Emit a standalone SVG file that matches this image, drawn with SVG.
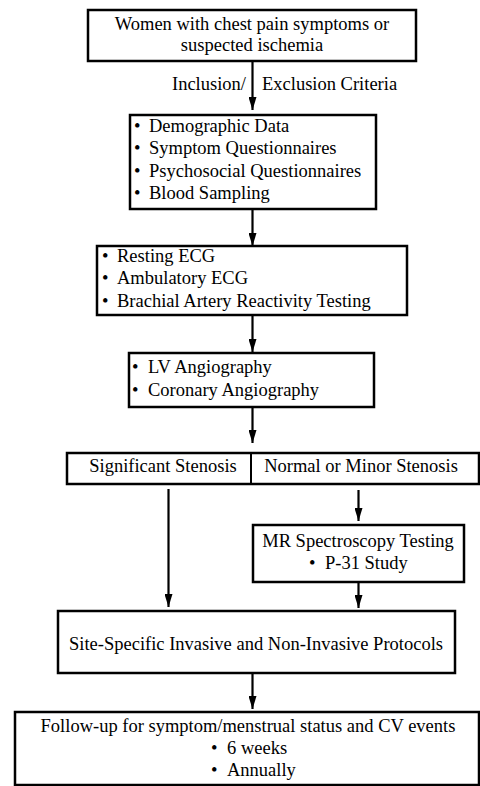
<svg xmlns="http://www.w3.org/2000/svg" width="480" height="786" viewBox="0 0 480 786">
<defs>
<marker id="ah" markerUnits="userSpaceOnUse" markerWidth="13" markerHeight="8" refX="13" refY="4" orient="auto" viewBox="0 0 13 8">
<path d="M0,0 L13,4 L0,8 Z" fill="#000"/>
</marker>
<style>
rect.b{fill:#fff;stroke:#000;stroke-width:2.5}
text{font-family:'Liberation Serif','Times New Roman',serif;font-size:18.5px;fill:#000}
.c{text-anchor:middle}
line.a{stroke:#000;stroke-width:2.2}
</style>
</defs>
<rect width="480" height="786" fill="#fff"/>
<g id="connectors">
<line class="a" x1="252.5" y1="61" x2="252.5" y2="110" marker-end="url(#ah)"/>
<line class="a" x1="252.5" y1="209" x2="252.5" y2="246" marker-end="url(#ah)"/>
<line class="a" x1="252.5" y1="315" x2="252.5" y2="352" marker-end="url(#ah)"/>
<line class="a" x1="252.5" y1="407" x2="252.5" y2="443" marker-end="url(#ah)"/>
<line class="a" x1="168.5" y1="489" x2="168.5" y2="607" marker-end="url(#ah)"/>
<line class="a" x1="358.5" y1="490" x2="358.5" y2="521" marker-end="url(#ah)"/>
<line class="a" x1="358.5" y1="583" x2="358.5" y2="608" marker-end="url(#ah)"/>
<line class="a" x1="252.5" y1="673" x2="252.5" y2="709" marker-end="url(#ah)"/>
<text x="246" y="90" text-anchor="end" font-family="Liberation Serif, serif">Inclusion/</text>
<text x="262" y="90" font-family="Liberation Serif, serif">Exclusion Criteria</text>
</g>
<g id="n1" font-family="Liberation Serif, serif">
<rect class="b" x="88" y="10" width="328" height="51"/>
<text class="c" x="252" y="30">Women with chest pain symptoms or</text>
<text class="c" x="252" y="51">suspected ischemia</text>
</g>
<g id="n2">
<rect class="b" x="130" y="115" width="246" height="94"/>
<text x="134" y="132">•</text><text x="149" y="132">Demographic Data</text>
<text x="134" y="154">•</text><text x="149" y="154">Symptom Questionnaires</text>
<text x="134" y="177">•</text><text x="149" y="177">Psychosocial Questionnaires</text>
<text x="134" y="199">•</text><text x="149" y="199">Blood Sampling</text>
</g>
<g id="n3">
<rect class="b" x="97" y="246" width="310" height="69"/>
<text x="102" y="262">•</text><text x="117" y="262">Resting ECG</text>
<text x="102" y="284">•</text><text x="117" y="284">Ambulatory ECG</text>
<text x="102" y="307">•</text><text x="117" y="307">Brachial Artery Reactivity Testing</text>
</g>
<g id="n4">
<rect class="b" x="129" y="353" width="245" height="54"/>
<text x="132" y="373">•</text><text x="148" y="373">LV Angiography</text>
<text x="132" y="396">•</text><text x="148" y="396">Coronary Angiography</text>
</g>
<g id="n5">
<rect class="b" x="67" y="453" width="412" height="31"/>
<line x1="251" y1="453" x2="251" y2="484" stroke="#000" stroke-width="2"/>
<text class="c" x="163" y="472">Significant Stenosis</text>
<text class="c" x="361" y="472">Normal or Minor Stenosis</text>
</g>
<g id="n6">
<rect class="b" x="253" y="525" width="211" height="57"/>
<text class="c" x="358" y="547">MR Spectroscopy Testing</text>
<text x="309" y="569">•</text><text x="325" y="569">P-31 Study</text>
</g>
<g id="n7">
<rect class="b" x="58" y="611" width="397" height="62"/>
<text class="c" x="256" y="650">Site-Specific Invasive and Non-Invasive Protocols</text>
</g>
<g id="n8">
<rect class="b" x="15" y="712" width="464" height="73"/>
<text class="c" x="248" y="732">Follow-up for symptom/menstrual status and CV events</text>
<text x="211" y="754">•</text><text x="227" y="754">6 weeks</text>
<text x="211" y="776">•</text><text x="227" y="776">Annually</text>
</g>
</svg>
